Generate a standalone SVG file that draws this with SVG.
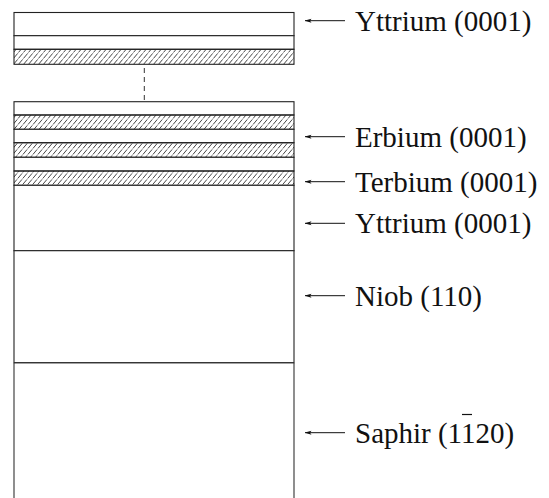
<svg xmlns="http://www.w3.org/2000/svg" width="549" height="498" viewBox="0 0 549 498">
  <defs>
    <pattern id="hatch" patternUnits="userSpaceOnUse" width="5" height="6" patternTransform="skewX(-40)">
      <line x1="2.5" y1="0" x2="2.5" y2="6" stroke="#333" stroke-width="0.9" stroke-dasharray="4.5 1"/>
    </pattern>
    <marker id="arr" markerWidth="8" markerHeight="6" refX="0.5" refY="3" orient="auto" markerUnits="userSpaceOnUse">
      <path d="M0,3 L7,1 L5.5,3 L7,5 Z" fill="#111"/>
    </marker>
    <style>
      .layer { fill: #fff; stroke: #222; stroke-width: 1.1; }
      .hatched { fill: url(#hatch); stroke: #222; stroke-width: 1.1; }
      .side { fill: none; stroke: #333; stroke-width: 1.1; }
      .lbl { font-family: "Liberation Serif", "Times New Roman", serif; font-size: 29px; fill: #111; }
      .arrow { stroke: #111; stroke-width: 1; fill: none; marker-start: url(#arr); }
      .gap { stroke: #333; stroke-width: 1; stroke-dasharray: 5 4; fill: none; }
    </style>
  </defs>

  <g id="top-stack">
    <rect id="top-yttrium" class="layer" x="14" y="12.5" width="280" height="23.2"/>
    <rect id="top-white" class="layer" x="14" y="35.7" width="280" height="13.6"/>
    <rect id="top-hatched" class="hatched" x="14" y="49.3" width="280" height="15"/>
  </g>

  <g id="bottom-stack">
    <rect id="cap" class="layer" x="14" y="101.7" width="280" height="13.3"/>
    <rect id="h1" class="hatched" x="14" y="115" width="280" height="14.3"/>
    <rect id="erbium" class="layer" x="14" y="129.3" width="280" height="13.4"/>
    <rect id="h2" class="hatched" x="14" y="142.7" width="280" height="14.6"/>
    <rect id="terbium" class="layer" x="14" y="157.3" width="280" height="13.7"/>
    <rect id="h3" class="hatched" x="14" y="171" width="280" height="14.3"/>
    <rect id="yttrium" class="layer" x="14" y="185.3" width="280" height="65.4"/>
    <rect id="niob" class="layer" x="14" y="250.7" width="280" height="112"/>
    <g id="saphir">
      <path class="side" d="M14,362.7 H294 M14,362.7 V498 M294,362.7 V498"/>
    </g>
  </g>

  <g id="connectors">
    <line class="gap" x1="144.3" y1="68" x2="144.3" y2="101.7"/>
    <line class="arrow" x1="305" y1="20.7" x2="345" y2="20.7"/>
    <line class="arrow" x1="305" y1="136.7" x2="345" y2="136.7"/>
    <line class="arrow" x1="305" y1="181.7" x2="345" y2="181.7"/>
    <line class="arrow" x1="305" y1="223.3" x2="345" y2="223.3"/>
    <line class="arrow" x1="305" y1="295.7" x2="345" y2="295.7"/>
    <line class="arrow" x1="305" y1="432.7" x2="345" y2="432.7"/>
  </g>

  <g id="labels">
    <text class="lbl" x="355" y="30.5">Yttrium (0001)</text>
    <text class="lbl" x="355" y="146.5">Erbium (0001)</text>
    <text class="lbl" x="355" y="191.5">Terbium (0001)</text>
    <text class="lbl" x="355" y="233.1">Yttrium (0001)</text>
    <text class="lbl" x="355" y="305.5">Niob (110)</text>
    <text class="lbl" x="355" y="442.5">Saphir (1<tspan id="barred">1</tspan>20)</text>
    <line x1="462" y1="414.5" x2="472" y2="414.5" stroke="#111" stroke-width="1.2"/>
  </g>
</svg>
